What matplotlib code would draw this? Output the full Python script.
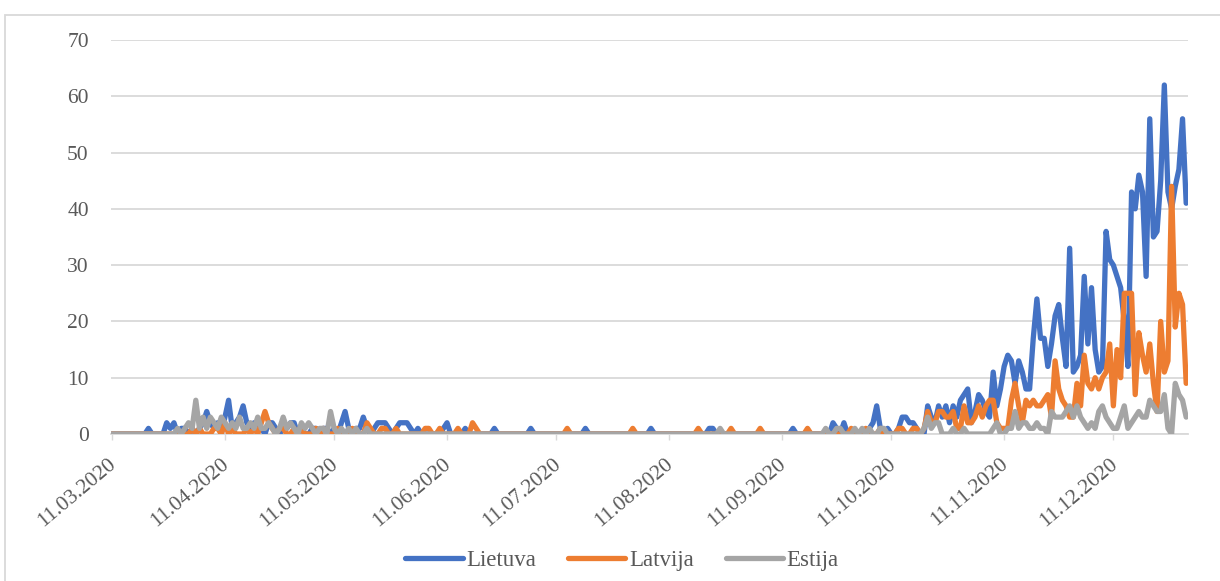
import matplotlib
matplotlib.use("Agg")
import matplotlib.pyplot as plt
import matplotlib.dates as mdates
from matplotlib.patches import Rectangle
from matplotlib.transforms import ScaledTranslation
import pandas as pd

# Daily values, 11.03.2020 - 31.12.2020, grouped by month
lietuva_by_month = [
    [0,0,0,0,0,0,0,0,0,0,1,0,0,0,0,2,1,2,0,1,1],
    [0,1,0,1,2,4,2,1,2,0,3,6,1,2,3,5,2,1,2,2,1,0,2,2,1,0,1,1,2,2],
    [0,1,0,0,1,1,0,1,1,0,1,0,2,4,1,0,1,1,3,1,0,1,2,2,2,1,0,1,2,2,2],
    [1,0,1,0,0,0,0,0,0,1,2,0,0,0,0,1,0,0,0,0,0,0,0,1,0,0,0,0,0,0],
    [0,0,0,1,0,0,0,0,0,0,0,0,0,0,0,0,0,0,1,0,0,0,0,0,0,0,0,0,0,0,0],
    [0,0,0,0,0,1,0,0,0,0,0,0,0,0,0,0,0,0,0,0,0,1,1,0,0,0,0,0,0,0,0],
    [0,0,0,0,0,0,0,0,0,0,0,0,0,1,0,0,0,0,0,0,0,0,0,0,2,1,0,2,0,0],
    [0,0,0,0,1,2,5,1,0,1,0,0,1,3,3,2,2,1,0,0,5,3,2,5,3,5,2,5,3,6,7],
    [8,2,4,7,6,4,3,11,5,8,12,14,13,9,13,11,8,8,17,24,17,17,12,16,21,23,17,12,33,11],
    [12,14,28,16,26,15,11,12,36,31,30,28,26,20,12,43,40,46,43,28,56,35,36,45,62,43,40,44,47,56,41],
]
latvija_by_month = [
    [0,0,0,0,0,0,0,0,0,0,0,0,0,0,0,0,0,0,0,0,0],
    [0,1,0,1,0,0,0,1,1,0,2,0,1,0,0,0,1,0,1,0,2,4,2,1,0,1,1,0,0,1],
    [0,1,0,0,0,1,0,1,0,0,0,1,0,0,0,1,0,0,0,2,1,0,0,1,1,0,0,1,0,0,0],
    [0,0,0,0,1,1,0,0,1,0,0,0,0,1,0,0,0,2,1,0,0,0,0,0,0,0,0,0,0,0],
    [0,0,0,0,0,0,0,0,0,0,0,0,0,1,0,0,0,0,0,0,0,0,0,0,0,0,0,0,0,0,0],
    [1,0,0,0,0,0,0,0,0,0,0,0,0,0,0,0,0,0,1,0,0,0,0,0,0,0,0,1,0,0,0],
    [0,0,0,0,1,0,0,0,0,0,0,0,0,0,0,0,0,1,0,0,0,0,0,0,0,0,0,0,0,1],
    [0,0,0,1,0,0,0,1,0,0,0,0,1,1,0,0,1,1,0,1,4,2,2,4,4,3,3,4,1,1,5],
    [2,2,3,5,3,5,6,6,2,1,1,1,6,9,5,2,6,5,6,5,5,6,7,3,13,8,6,5,3,3],
    [9,5,14,9,8,10,8,10,11,16,5,15,10,25,25,25,7,18,14,11,16,9,4,20,11,13,44,19,25,23,9],
]
estija_by_month = [
    [0,0,0,0,0,0,0,0,0,0,0,0,0,0,0,0,0,0,1,0,1],
    [2,1,6,1,3,1,3,2,1,3,2,1,2,1,3,1,1,2,1,3,1,1,2,1,0,1,3,1,2,1],
    [0,2,1,2,1,0,1,1,0,4,1,0,1,0,1,0,1,0,0,1,0,0,0,0,0,0,0,0,0,0,0],
    [0,0,0,0,0,0,0,0,0,0,0,0,0,0,0,0,0,0,0,0,0,0,0,0,0,0,0,0,0,0],
    [0,0,0,0,0,0,0,0,0,0,0,0,0,0,0,0,0,0,0,0,0,0,0,0,0,0,0,0,0,0,0],
    [0,0,0,0,0,0,0,0,0,0,0,0,0,0,0,0,0,0,0,0,0,0,0,0,1,0,0,0,0,0,0],
    [0,0,0,0,0,0,0,0,0,0,0,0,0,0,0,0,0,0,0,0,0,0,1,0,0,1,1,0,0,0],
    [1,0,1,0,1,0,0,1,1,0,0,0,0,0,0,0,0,0,0,1,3,1,2,2,0,0,0,1,0,0,1],
    [0,0,0,0,0,0,0,1,2,0,0,1,1,4,1,2,2,1,1,2,1,1,0,4,3,3,3,4,5,3],
    [5,3,2,1,2,1,4,5,3,2,1,1,3,5,1,2,3,4,3,3,6,5,4,4,7,1,0,9,7,6,3],
]

series_names = ["Lietuva", "Latvija", "Estija"]
series_colors = ["#4472C4", "#ED7D31", "#A5A5A5"]

start_date = "2020-03-11"
end_date = "2020-12-31"
# monthly ticks on the 11th
tick_dates = pd.date_range("2020-03-01", "2020-12-01", freq="MS") + pd.Timedelta(days=10)
y_ticks = [0, 10, 20, 30, 40, 50, 60, 70]


def flatten(months):
    return [v for m in months for v in m]


dates = pd.date_range(start_date, end_date, freq="D")
values = [flatten(lietuva_by_month), flatten(latvija_by_month), flatten(estija_by_month)]

W, H, DPI = 1220, 581, 100
fig = plt.figure(figsize=(W / DPI, H / DPI), dpi=DPI)
ax = fig.add_axes([111 / W, 1 - 434 / H, (1188 - 111) / W, (434 - 40) / H])

serif = ["Liberation Serif", "DejaVu Serif"]
text_color = "#595959"
grid_color = "#D9D9D9"
line_w = 3.8

for name, color, vals in zip(series_names, series_colors, values):
    ax.plot(dates, vals, color=color, lw=line_w, label=name,
            solid_joinstyle="round", solid_capstyle="round", zorder=3)

ax.set_ylim(0, 70)
ax.set_yticks(y_ticks)
ax.set_xlim(pd.Timestamp(start_date) - pd.Timedelta(hours=7),
            pd.Timestamp(end_date) + pd.Timedelta(hours=12))
ax.set_xticks(tick_dates)
ax.xaxis.set_major_formatter(mdates.DateFormatter("%d.%m.%Y"))

ax.grid(axis="y", color=grid_color, lw=1.3, zorder=0)
for side in ("top", "right", "left"):
    ax.spines[side].set_visible(False)
ax.spines["bottom"].set_color(grid_color)
ax.spines["bottom"].set_linewidth(1.3)
ax.spines["bottom"].set_zorder(1)

ax.tick_params(axis="y", length=0, pad=16, labelsize=15.5, labelcolor=text_color)
ax.tick_params(axis="x", length=4, width=1, color=grid_color, pad=16,
               labelsize=15.5, labelcolor=text_color)
for lab in ax.get_yticklabels():
    lab.set_family(serif)
offset = ScaledTranslation(2 / DPI, 0, fig.dpi_scale_trans)
for lab in ax.get_xticklabels():
    lab.set_family(serif)
    lab.set_rotation(40)
    lab.set_ha("right")
    lab.set_va("center")
    lab.set_rotation_mode("anchor")
    lab.set_transform(lab.get_transform() + offset)

leg = fig.legend(loc="center", bbox_to_anchor=(622 / W, 1 - 560 / H), ncol=3,
                 frameon=False, handlelength=2.5, handletextpad=0.15,
                 columnspacing=1.4, prop={"family": serif, "size": 16.5})
for t in leg.get_texts():
    t.set_color(text_color)
for h in leg.legend_handles:
    h.set_linewidth(line_w)

# outer chart border
fig.patches.append(Rectangle((5 / W, -0.2), 1.2, 1.2 - 15 / H, fill=False,
                             edgecolor=grid_color, lw=1.3,
                             transform=fig.transFigure, figure=fig))

fig.savefig("out.png", dpi=DPI, facecolor="white")
